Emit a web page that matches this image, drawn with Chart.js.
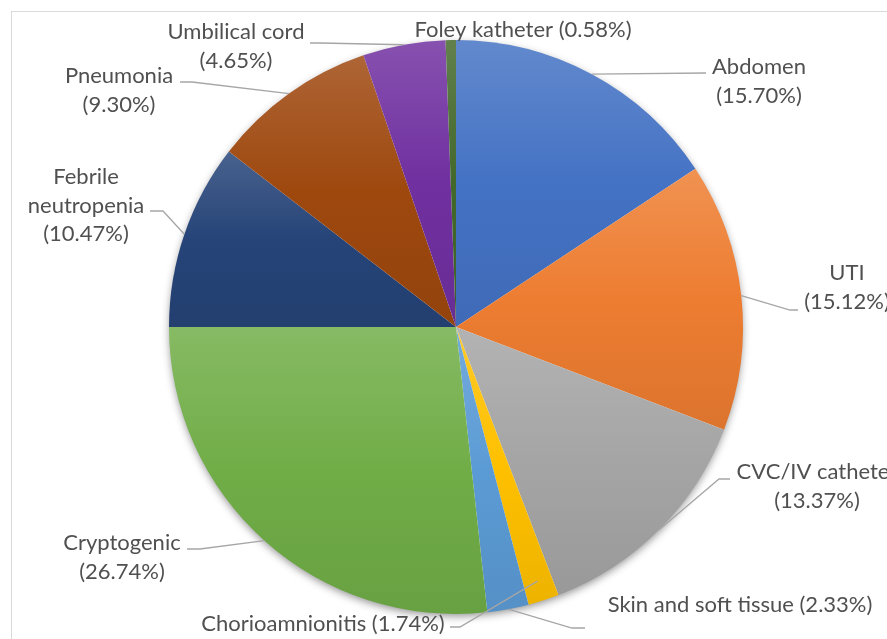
<!DOCTYPE html>
<html>
<head>
<meta charset="utf-8">
<script src="https://cdn.jsdelivr.net/npm/chart.js@4.4.1/dist/chart.umd.min.js"></script>
<style>
  html, body { margin: 0; padding: 0; background: #fff; overflow: hidden; }
  canvas { display: block; }
</style>
</head>
<body>
<canvas id="pie" width="887" height="639"></canvas>
<script>
// data, clockwise from 12 o'clock
var categories = ['Abdomen', 'UTI', 'CVC/IV catheter', 'Chorioamnionitis', 'Skin and soft tissue',
    'Cryptogenic', 'Febrile neutropenia', 'Pneumonia', 'Umbilical cord', 'Foley katheter'];
var shares = [15.70, 15.12, 13.37, 1.74, 2.33, 26.74, 10.47, 9.30, 4.65, 0.58];

var sliceColors = ['#4472C4', '#ED7D31', '#A5A5A5', '#FFC000', '#5B9BD5',
    '#70AD47', '#264478', '#9E480E', '#7030A0', '#43682B'];

// where each label sits and how its leader line bends
var labelSpots = [
    { x: 759, y: 67, split: 2, from: [706, 73] },
    { x: 847, y: 273, split: 2, from: [798, 310], bend: [790, 310] },
    { x: 817, y: 472, split: 2, from: [730, 479], bend: [719, 479] },
    { x: 323, y: 624, split: 1, from: [450, 627], bend: [460, 627], reach: 0.93 },
    { x: 740, y: 605, split: 1, from: [585, 628], bend: [572, 628] },
    { x: 122, y: 543, split: 2, from: [187, 549], bend: [200, 549] },
    { x: 86, y: 177, split: 3, from: [150, 211], bend: [163, 211] },
    { x: 119, y: 76, split: 2, from: [180, 82], bend: [192, 82] },
    { x: 236, y: 32, split: 2, from: [310, 43], bend: [320, 43] },
    { x: 523, y: 30, split: 1 }
];

var FONT = '22px Lato';
var LINE_H = 28.5;

function shade(hex, amt) {
    var n = parseInt(hex.slice(1), 16);
    var r = n >> 16, g = (n >> 8) & 255, b = n & 255;
    function f(c) {
        return Math.round(amt >= 0 ? c + (255 - c) * amt : c * (1 + amt));
    }
    return 'rgb(' + f(r) + ',' + f(g) + ',' + f(b) + ')';
}

// vertical gradient spanning the slice's own bounding box
function sliceFill(ctx) {
    var chart = ctx.chart, area = chart.chartArea, i = ctx.dataIndex;
    var base = sliceColors[i];
    if (!area) return base;
    var data = ctx.dataset.data;
    var total = data.reduce(function (a, b) { return a + b; }, 0);
    var before = 0;
    for (var k = 0; k < i; k++) before += data[k];
    var cx = (area.left + area.right) / 2, cy = (area.top + area.bottom) / 2;
    var r = Math.min(area.right - area.left, area.bottom - area.top) / 2;
    var a0 = -Math.PI / 2 + before / total * 2 * Math.PI;
    var a1 = a0 + data[i] / total * 2 * Math.PI;
    var ys = [cy, cy + Math.sin(a0) * r, cy + Math.sin(a1) * r];
    if (a0 <= -Math.PI / 2 + 1e-6 || (a0 < 1.5 * Math.PI && a1 > 1.5 * Math.PI)) ys.push(cy - r);
    if (a0 < Math.PI / 2 && a1 > Math.PI / 2) ys.push(cy + r);
    var top = Math.min.apply(null, ys), bottom = Math.max.apply(null, ys);
    if (bottom - top < 1) bottom = top + 1;
    var g = chart.ctx.createLinearGradient(0, top, 0, bottom);
    g.addColorStop(0, shade(base, 0.16));
    g.addColorStop(0.5, base);
    g.addColorStop(1, shade(base, -0.07));
    return g;
}

var frame = {
    id: 'frame',
    beforeDraw: function (chart) {
        var c = chart.ctx;
        c.save();
        c.strokeStyle = '#D9D9D9';
        c.lineWidth = 1;
        c.strokeRect(11.5, 11.5, 2000, 2000);
        c.restore();
    },
    beforeDatasetsDraw: function (chart) {
        var arc = chart.getDatasetMeta(0).data[0];
        if (!arc) return;
        var c = chart.ctx;
        c.save();
        c.shadowColor = 'rgba(0,0,0,0.45)';
        c.shadowBlur = 9;
        c.shadowOffsetY = 3;
        c.fillStyle = '#fff';
        c.beginPath();
        c.arc(arc.x, arc.y, arc.outerRadius - 1, 0, Math.PI * 2);
        c.fill();
        c.restore();
    }
};

var outsideLabels = {
    id: 'outsideLabels',
    afterDatasetsDraw: function (chart) {
        var c = chart.ctx;
        var arcs = chart.getDatasetMeta(0).data;
        c.save();
        // leader lines
        c.strokeStyle = '#A6A6A6';
        c.lineWidth = 1.3;
        labelSpots.forEach(function (s, i) {
            if (!s.from) return;
            var a = arcs[i];
            var mid = (a.startAngle + a.endAngle) / 2;
            var rr = a.outerRadius * (s.reach || 1);
            c.beginPath();
            c.moveTo(s.from[0], s.from[1]);
            if (s.bend) c.lineTo(s.bend[0], s.bend[1]);
            c.lineTo(a.x + Math.cos(mid) * rr, a.y + Math.sin(mid) * rr);
            c.stroke();
        });
        // label text
        c.font = FONT;
        c.fillStyle = '#505050';
        c.textAlign = 'center';
        c.textBaseline = 'middle';
        labelSpots.forEach(function (s, i) {
            var pct = '(' + shares[i].toFixed(2) + '%)';
            var lines;
            if (s.split === 1) lines = [categories[i] + ' ' + pct];
            else if (s.split === 3) lines = categories[i].split(' ').concat([pct]);
            else lines = [categories[i], pct];
            lines.forEach(function (t, k) {
                c.fillText(t, s.x, s.y + k * LINE_H);
            });
        });
        c.restore();
    }
};

new Chart(document.getElementById('pie'), {
    type: 'pie',
    data: {
        labels: categories,
        datasets: [{
            data: shares,
            backgroundColor: sliceFill,
            borderWidth: 0,
            hoverBorderWidth: 0,
            hoverOffset: 0,
            offset: 0
        }]
    },
    options: {
        responsive: false,
        animation: false,
        events: [],
        layout: { padding: { left: 169, right: 144, top: 40, bottom: 25 } },
        plugins: {
            legend: { display: false },
            tooltip: { enabled: false }
        }
    },
    plugins: [frame, outsideLabels]
});
</script>
</body>
</html>
